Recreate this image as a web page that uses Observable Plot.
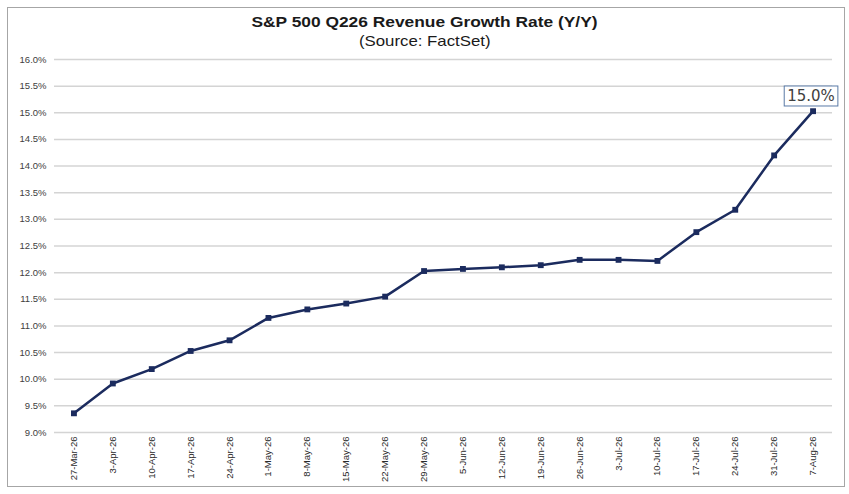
<!DOCTYPE html>
<html>
<head>
<meta charset="utf-8">
<script src="https://cdn.jsdelivr.net/npm/d3@7"></script>
<script src="https://cdn.jsdelivr.net/npm/@observablehq/plot@0.6"></script>
<style>
  html, body { margin: 0; padding: 0; background: #fff; }
  body { width: 849px; height: 494px; position: relative; overflow: hidden; font-family: "Liberation Sans", Arial, sans-serif; }
  #frame { position: absolute; left: 7px; top: 7px; width: 838px; height: 480px; border: 1px solid #a6a6a6; box-sizing: border-box; }
  .ttl { position: absolute; left: 0; width: 849px; text-align: center; color: #1a1a1a; }
  .ttl span { display: inline-block; transform: scaleX(1.12); }
  #title { top: 13px; font-weight: bold; font-size: 15.5px; }
  #sub { top: 32px; font-size: 15px; }
  #chart { position: absolute; left: 8px; top: 52px; }
</style>
</head>
<body>
<div id="frame"></div>
<div id="title" class="ttl"><span>S&amp;P 500 Q226 Revenue Growth Rate (Y/Y)</span></div>
<div id="sub" class="ttl"><span>(Source: FactSet)</span></div>
<div id="chart"></div>
<script>
const dates = ["27-Mar-26","3-Apr-26","10-Apr-26","17-Apr-26","24-Apr-26","1-May-26","8-May-26","15-May-26","22-May-26","29-May-26","5-Jun-26","12-Jun-26","19-Jun-26","26-Jun-26","3-Jul-26","10-Jul-26","17-Jul-26","24-Jul-26","31-Jul-26","7-Aug-26"];
const growth = [9.36, 9.92, 10.19, 10.53, 10.73, 11.15, 11.31, 11.42, 11.55, 12.03, 12.07, 12.10, 12.14, 12.24, 12.24, 12.22, 12.76, 13.18, 14.20, 15.03];
const yTicks = [9.0, 9.5, 10.0, 10.5, 11.0, 11.5, 12.0, 12.5, 13.0, 13.5, 14.0, 14.5, 15.0, 15.5, 16.0];

const data = dates.map((d, i) => ({date: d, value: growth[i]}));
const last = [data[data.length - 1]];
const navy = "#1b2b5e";

const chart = Plot.plot({
  width: 835,
  height: 433,
  marginLeft: 46,
  marginRight: 11,
  marginTop: 7,
  marginBottom: 53,
  style: {fontFamily: "'Liberation Sans', Arial, sans-serif", background: "#fff"},
  x: {type: "point", domain: dates, padding: 0.5, round: false},
  y: {domain: [9, 16]},
  marks: [
    Plot.ruleY(yTicks, {stroke: "#d4d4d4", strokeWidth: 1.5}),
    Plot.axisY({ticks: yTicks, tickFormat: d => d.toFixed(1) + "%", tickSize: 0, tickPadding: 8, fontSize: 9.5, fill: "#404040", label: null}),
    Plot.axisX({tickRotate: -90, tickSize: 0, tickPadding: 4, fontSize: 9.5, fill: "#2a2a2a", label: null}),
    Plot.line(data, {x: "date", y: "value", stroke: navy, strokeWidth: 2.5}),
    Plot.dot(data, {x: "date", y: "value", symbol: "square", r: 3.3, fill: navy, stroke: "none"}),
    Plot.text(last, {x: "date", y: "value", text: d => d.value.toFixed(1) + "%", dy: -15, dx: -2, fontSize: 15, fill: "#404040", fontFamily: "'DejaVu Sans', sans-serif"})
  ]
});
document.getElementById("chart").appendChild(chart);

// box around the data label, sized from the rendered text
d3.select(chart).selectAll('g[aria-label="text"] text').each(function() {
  const b = this.getBBox();
  const t = this.getAttribute("transform");
  d3.select(this.parentNode).insert("rect", () => this)
    .attr("x", b.x - 3).attr("y", b.y - 1)
    .attr("width", b.width + 6).attr("height", b.height + 2)
    .attr("transform", t)
    .attr("fill", "#fff").attr("stroke", "#5a7aa6").attr("stroke-width", 1);
});
</script>
</body>
</html>
